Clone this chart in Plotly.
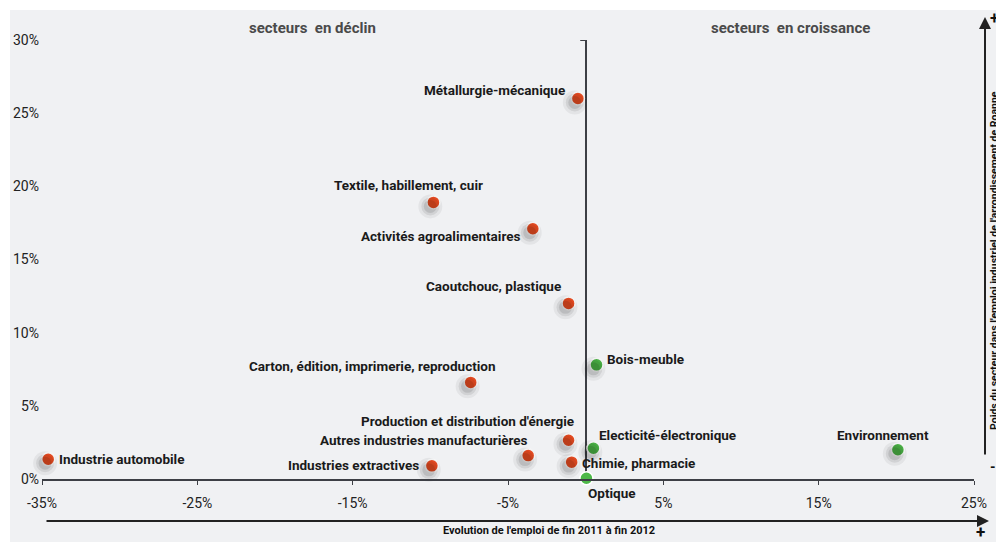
import plotly.graph_objects as go

# données
secteurs = ["Métallurgie-mécanique", "Textile, habillement, cuir", "Activités agroalimentaires",
            "Caoutchouc, plastique", "Carton, édition, imprimerie, reproduction",
            "Production et distribution d'énergie", "Autres industries manufacturières",
            "Industries extractives", "Chimie, pharmacie", "Industrie automobile",
            "Bois-meuble", "Electicité-électronique", "Environnement", "Optique"]
evolution = [-0.5, -9.8, -3.4, -1.1, -7.4, -1.1, -3.7, -9.9, -0.9, -34.6, 0.7, 0.5, 20.1, 0.05]
poids = [26.0, 18.9, 17.1, 12.0, 6.6, 2.65, 1.6, 0.9, 1.15, 1.35, 7.8, 2.1, 2.0, 0.05]
x_ticks = [-35, -25, -15, -5, 5, 15, 25]
y_ticks = [0, 5, 10, 15, 20, 25, 30]

# placement des étiquettes (ancre, décalage x, décalage y) en pixels
placement = [("right", -11, 9), ("right", 52, 17), ("right", -11, -7), ("right", -6, 17),
             ("right", 27, 16), ("right", 7, 19), ("right", 2, 16), ("right", -11, 1),
             ("left", 8, -1), ("left", 9, 0), ("left", 8, 6), ("left", 4, 13),
             ("center", -15, 15), ("left", 0, -15)]

ROUGE = "#f04e23"
VERT = "#4db848"
FOND = "#f0f1f3"
FONT = "Roboto, sans-serif"

couleurs = [VERT if e >= 0 else ROUGE for e in evolution]

fig = go.Figure()

# ombre portée des points (axes décalés)
for taille, alpha in [(24, 0.05), (18, 0.08), (13, 0.10)]:
    fig.add_trace(go.Scatter(x=evolution, y=poids, mode="markers", xaxis="x2", yaxis="y2",
                             marker=dict(size=taille, color=f"rgba(0,0,0,{alpha})", line=dict(width=0)),
                             hoverinfo="skip", cliponaxis=False, showlegend=False))
fig.add_trace(go.Scatter(x=evolution, y=poids, mode="markers", text=secteurs,
                         marker=dict(size=13, color=couleurs, line=dict(color="white", width=1.5)),
                         hovertemplate="%{text}<br>%{x}%<br>%{y}%<extra></extra>",
                         cliponaxis=False, showlegend=False))

for nom, ex, py, (anc, dx, dy) in zip(secteurs, evolution, poids, placement):
    fig.add_annotation(x=ex, y=py, text=nom, showarrow=False, xanchor=anc, yanchor="middle",
                       xshift=dx, yshift=dy,
                       font=dict(family=FONT, size=13.5, color="#1a1a1a", weight="bold"))

# la page ajoute une marge de 8 px autour de la figure
DEC = 8
FW, FH = 1004 - DEC, 542 - DEC
L, T, W, H = 42 - DEC, 40 - DEC, 932, 439


def px(x):
    return (x - DEC - L) / W


def py_(y):
    return (T + H - (y - DEC)) / H


def texte(x, y, t, size, color="#111", **kw):
    fig.add_annotation(xref="paper", yref="paper", x=px(x), y=py_(y), text=t, showarrow=False,
                       xanchor="center", yanchor="middle",
                       font=dict(family=FONT, size=size, color=color, weight="bold"), **kw)


# fond gris
fig.add_shape(type="rect", xref="paper", yref="paper", x0=px(10), x1=px(1020), y0=py_(10), y1=py_(560),
              fillcolor=FOND, line=dict(width=0), layer="below")

# petit retour en haut de l'axe vertical
fig.add_shape(type="line", x0=-0.35, x1=0, y0=30, y1=30, line=dict(color="#3d3f45", width=2))

# titres des deux zones
texte(312, 28, "secteurs  en déclin", 15, "#4a4a4a")
texte(790, 28, "secteurs  en croissance", 15, "#4a4a4a")

# flèche horizontale
fig.add_annotation(xref="paper", yref="paper", x=px(989), y=py_(521), ax=45 - 989, ay=0,
                   text="", showarrow=True, arrowhead=2,
                   arrowsize=1.2, arrowwidth=2, arrowcolor="#222")
texte(549, 530, "Evolution de l'emploi de fin 2011 à fin 2012", 11)
texte(980, 532, "+", 17)

# flèche verticale
fig.add_annotation(xref="paper", yref="paper", x=px(985), y=py_(17), ax=0, ay=456 - 17,
                   text="", showarrow=True, arrowhead=2,
                   arrowsize=1.2, arrowwidth=2, arrowcolor="#222")
texte(994, 261, "Poids du secteur dans l'emploi industriel de l'arrondissement de Roanne", 10.5,
      textangle=-90)
texte(994, 18, "+", 16)
texte(993, 467, "-", 14)

axfont = dict(family=FONT, size=14, color="#222")
fig.update_layout(
    width=FW, height=FH,
    margin=dict(l=L, r=FW - L - W, t=T, b=FH - T - H),
    paper_bgcolor="white", plot_bgcolor="rgba(0,0,0,0)",
    xaxis=dict(range=[-35, 25], tickvals=x_ticks, ticktext=[f"{v}%" for v in x_ticks],
               showgrid=False, zeroline=True, zerolinecolor="#3d3f45", zerolinewidth=2,
               showline=True, linecolor="#3d3f45", linewidth=2, ticks="outside", ticklen=4,
               tickcolor="#3d3f45", tickfont=axfont, ticklabelstandoff=6, automargin=False),
    yaxis=dict(range=[0, 30], tickvals=y_ticks, ticktext=[f"{v}%" for v in y_ticks],
               showgrid=False, zeroline=False, showline=False, tickfont=axfont,
               ticklabelstandoff=2, automargin=False),
    xaxis2=dict(range=[-34.8, 25.2], overlaying="x", visible=False),
    yaxis2=dict(range=[0.27, 30.27], overlaying="y", visible=False),
    hovermode="closest",
)

fig.write_html("out.html")
